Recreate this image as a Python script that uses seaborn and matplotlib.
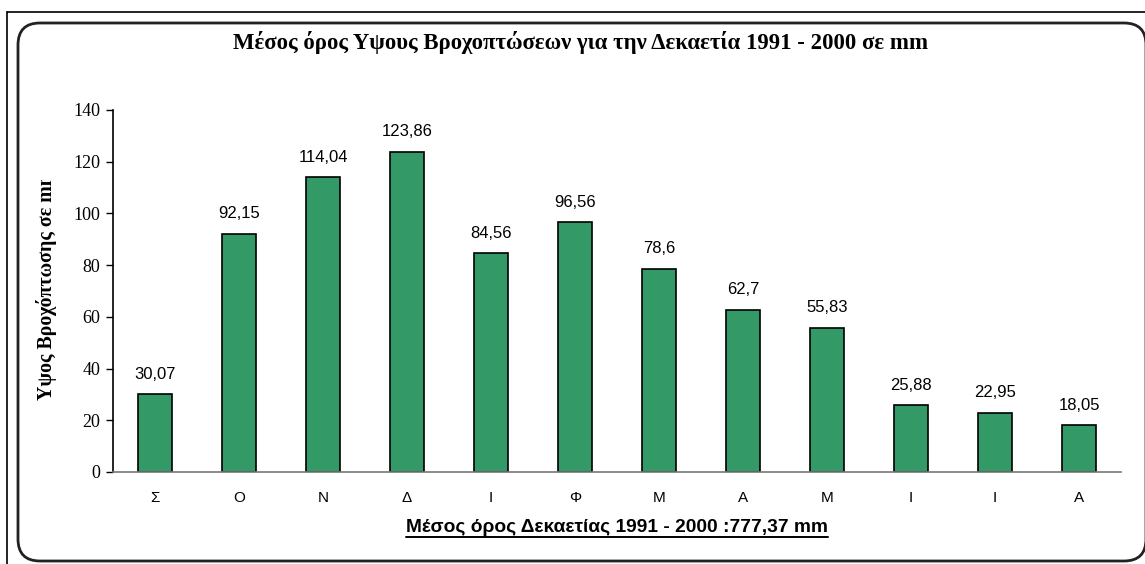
import matplotlib
matplotlib.use("Agg")
import matplotlib.pyplot as plt
import numpy as np
import seaborn as sns
from matplotlib.patches import FancyBboxPatch
from matplotlib.lines import Line2D
from matplotlib.transforms import Bbox, TransformedBbox, IdentityTransform

months = ["Σ", "Ο", "Ν", "Δ", "Ι", "Φ", "Μ", "Α", "Μ", "Ι", "Ι", "Α"]
rainfall = [30.07, 92.15, 114.04, 123.86, 84.56, 96.56, 78.6, 62.7, 55.83, 25.88, 22.95, 18.05]
y_ticks = [0, 20, 40, 60, 80, 100, 120, 140]

title = "Μέσος όρος Υψους Βροχοπτώσεων για την Δεκαετία 1991 - 2000 σε mm"
y_label = "Υψος Βροχόπτωσης σε mm"
x_label = "Μέσος όρος Δεκαετίας 1991 - 2000 :777,37 mm"

sns.set_style("white")
plt.rcParams["font.family"] = ["Liberation Sans", "DejaVu Sans"]
plt.rcParams["text.color"] = "black"
plt.rcParams["xtick.color"] = "black"
plt.rcParams["ytick.color"] = "black"

W, H = 1145, 564
fig = plt.figure(figsize=(W / 100, H / 100), dpi=100)


def fx(px):
    return px / W


def fy(py):
    return 1 - py / H


# frame lines and rounded box (pixel coordinates, origin bottom-left)
fig.add_artist(Line2D([fx(7), 1], [fy(12), fy(12)], color="black", lw=1.2))
fig.add_artist(Line2D([fx(7), fx(7)], [fy(12), 0], color="black", lw=1.2))
box = FancyBboxPatch((18, H - 561), 1146 - 18, 561 - 23,
                     boxstyle="round,pad=0,rounding_size=22",
                     transform=IdentityTransform(), fill=False, ec="#222222", lw=2)
fig.add_artist(box)

ax = fig.add_axes([fx(113), fy(472), fx(1121) - fx(113), fy(110) - fy(472)])
pos = list(range(len(months)))
sns.barplot(x=pos, y=rainfall, color="#339966", edgecolor="black",
            linewidth=1.2, width=0.41, saturation=1, ax=ax)

labels = [str(v).replace(".", ",") for v in rainfall]
ax.bar_label(ax.containers[0], labels=labels, padding=9, fontsize=12,
             family="Liberation Sans")

ax.set_xlim(-0.5, len(months) - 0.5)
ax.set_ylim(0, 140)
ax.set_yticks(y_ticks)
ax.set_yticklabels([str(t) for t in y_ticks], family="Liberation Serif", fontsize=13)
ax.set_xticks(pos)
ax.set_xticklabels(months, fontsize=11)
ax.set_xticks(np.arange(-0.5, len(months), 1), minor=True)
ax.tick_params(axis="x", which="major", length=0, pad=14)
ax.tick_params(axis="x", which="minor", length=5, width=1, color="#555555", direction="out")
ax.tick_params(axis="y", length=5, width=1, color="black", direction="out", left=True, pad=4)
ax.set_xlabel("")
ax.set_ylabel("")
for side in ["top", "right"]:
    ax.spines[side].set_visible(False)
ax.spines["left"].set_color("black")
ax.spines["bottom"].set_color("#777777")
ax.spines["left"].set_linewidth(1.2)
ax.spines["bottom"].set_linewidth(1.2)

fig.text(fx(581), fy(42), title, ha="center", va="center",
         family="Liberation Serif", fontweight="bold", fontsize=16.4)

yl = fig.text(fx(47), fy(284), y_label, ha="center", va="center", rotation=90,
              family="Liberation Serif", fontweight="bold", fontsize=14.3)
yl.set_clip_box(TransformedBbox(Bbox.from_extents(0, 0, 1, fy(180)), fig.transFigure))
yl.set_clip_on(True)

xl = fig.text(fx(617), fy(527), x_label, ha="center", va="center",
              fontweight="bold", fontsize=13.8)

fig.canvas.draw()
bb = xl.get_window_extent()
uy = bb.y0 - 1
fig.add_artist(Line2D([bb.x0 / W, bb.x1 / W], [uy / H, uy / H], color="black", lw=1.4))

fig.savefig("out.png", dpi=100)
